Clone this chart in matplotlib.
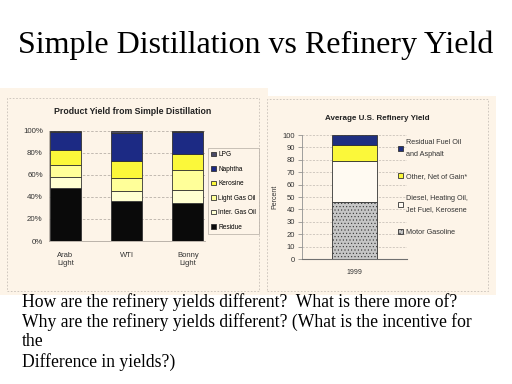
#!/usr/bin/env python3
import numpy as np
import matplotlib.pyplot as plt
from matplotlib.patches import Rectangle
from matplotlib.ticker import FuncFormatter

# left chart: product yield (%) by crude, stacked bottom -> top
crudes = ["Arab\nLight", "WTI", "Bonny\nLight"]
residue = [48, 36, 34]
inter_gas_oil = [10, 9, 12]
light_gas_oil = [11, 12, 18]
kerosine = [13, 15, 15]
naphtha = [17, 26, 20]
lpg = [1, 2, 1]

# right chart: average US refinery yield 1999 (%)
years = ["1999"]
motor_gasoline = [46]
diesel_jet = [33]
other_net = [13]
residual_fuel = [8]

W, H = 512, 384
BG = "#fdf4e8"

fig = plt.figure(figsize=(W / 100, H / 100), dpi=100)
fig.patch.set_facecolor("white")

def px_axes(x0, y0, x1, y1):
    # pixel box (top-left origin) -> figure axes
    return fig.add_axes([x0 / W, 1 - y1 / H, (x1 - x0) / W, (y1 - y0) / H])

# beige panels
for (x0, y0, x1, y1) in [(0, 88, 268, 295), (266, 96, 496, 295)]:
    fig.patches.append(Rectangle((x0 / W, 1 - y1 / H), (x1 - x0) / W, (y1 - y0) / H,
                                 transform=fig.transFigure, facecolor=BG, edgecolor="none", zorder=-2))
for (x0, y0, x1, y1) in [(7, 98, 259, 291), (267, 99, 488, 291)]:
    fig.patches.append(Rectangle((x0 / W, 1 - y1 / H), (x1 - x0) / W, (y1 - y0) / H,
                                 transform=fig.transFigure, facecolor="none", edgecolor="#c8c0b8",
                                 lw=0.6, ls=(0, (2, 2)), zorder=-1))

serif = "Liberation Serif"
sans = "Liberation Sans"

fig.text(0.5, 1 - 45 / H, "Simple Distillation vs Refinery Yield", ha="center", va="center",
         family=serif, fontsize=23)

questions = ["How are the refinery yields different?  What is there more of?",
             "Why are the refinery yields different? (What is the incentive for",
             "the",
             "Difference in yields?)"]
for i, line in enumerate(questions):
    fig.text(22 / W, 1 - (302 + i * 20) / H, line, ha="left", va="center", family=serif, fontsize=12.7)

# ---- left chart
ax1 = px_axes(49, 130.5, 205, 241)
ax1.set_facecolor(BG)
x = np.arange(len(crudes))
series = [("Residue", residue, "#0a0a0a"),
          ("Inter. Gas Oil", inter_gas_oil, "#ffffd2"),
          ("Light Gas Oil", light_gas_oil, "#ffff99"),
          ("Kerosine", kerosine, "#fbf83a"),
          ("Naphtha", naphtha, "#1c2a84"),
          ("LPG", lpg, "#4a4a66")]
bottom = np.zeros(len(crudes))
handles = []
for name, vals, col in series:
    b = ax1.bar(x, vals, 0.51, bottom=bottom, color=col, edgecolor="#333333", lw=0.6,
                label=name, zorder=3)
    handles.append(b)
    bottom += np.array(vals)
ax1.set_xlim(-0.27, 2.28)
ax1.set_ylim(0, 100)
ax1.set_yticks(range(0, 101, 20))
ax1.yaxis.set_major_formatter(FuncFormatter(lambda v, p: "%d%%" % v))
ax1.set_xticks(x)
ax1.set_xticklabels(crudes, family=sans, fontsize=5.5, color="#333333")
ax1.tick_params(axis="y", labelsize=5.7, labelcolor="#333333", length=0, pad=4.5)
ax1.tick_params(axis="x", length=0, pad=8)
ax1.grid(axis="y", color="#b8b0a8", lw=0.6, ls=(0, (3, 2)), zorder=0)
for s in ["top", "right"]:
    ax1.spines[s].set_visible(False)
ax1.spines["left"].set_color("#b0a8a0")
ax1.spines["bottom"].set_color("#b0a8a0")
ax1.spines["left"].set_linewidth(0.6)
ax1.spines["bottom"].set_linewidth(0.6)
for lab in ax1.get_yticklabels():
    lab.set_family(sans)
fig.text(133 / W, 1 - 112 / H, "Product Yield from Simple Distillation", ha="center", va="center",
         family=sans, fontsize=6.3, fontweight="bold", color="#222222")
leg1 = ax1.legend(handles[::-1], [s[0] for s in series][::-1], loc="upper left",
                  bbox_to_anchor=(208 / W, 1 - 148 / H), bbox_transform=fig.transFigure,
                  prop={"family": sans, "size": 4.7}, frameon=True, fancybox=False,
                  handlelength=0.75, handleheight=0.75, handletextpad=0.3, labelspacing=1.15,
                  borderpad=0.5, borderaxespad=0)
leg1.get_frame().set_edgecolor("#b0a8a0")
leg1.get_frame().set_facecolor(BG)
leg1.get_frame().set_linewidth(0.6)

# ---- right chart
ax2 = px_axes(302, 135, 407, 259)
ax2.set_facecolor(BG)
xr = np.arange(len(years))
series2 = [("Motor Gasoline", motor_gasoline, "#c6c6c6", "....."),
           ("Diesel, Heating Oil,\nJet Fuel, Kerosene", diesel_jet, "#fffaf2", None),
           ("Other, Net of Gain*", other_net, "#fbf83a", None),
           ("Residual Fuel Oil\nand Asphalt", residual_fuel, "#1f2f80", None)]
bottom = np.zeros(len(years))
handles2 = []
plt.rcParams["hatch.color"] = "#a0a0a0"
plt.rcParams["hatch.linewidth"] = 0.4
for name, vals, col, hatch in series2:
    b = ax2.bar(xr, vals, 0.84, bottom=bottom, color=col, edgecolor="#333333", lw=0.6,
                hatch=hatch, label=name, zorder=3)
    handles2.append(b)
    bottom += np.array(vals)
ax2.set_xlim(-1, 1)
ax2.set_ylim(0, 100)
ax2.set_yticks(range(0, 101, 10))
ax2.set_xticks(xr)
ax2.set_xticklabels(years, family=sans, fontsize=5, color="#333333")
ax2.tick_params(axis="y", labelsize=5.5, labelcolor="#333333", length=3, width=0.5,
                color="#808080", pad=2)
ax2.tick_params(axis="x", length=0, pad=7)
for lab in ax2.get_yticklabels():
    lab.set_family(sans)
ax2.grid(axis="y", color="#c0b8b0", lw=0.5, ls=(0, (3, 2)), zorder=0)
for s in ["top", "right"]:
    ax2.spines[s].set_visible(False)
ax2.spines["left"].set_color("#909090")
ax2.spines["bottom"].set_color("#707070")
ax2.spines["left"].set_linewidth(0.6)
ax2.spines["bottom"].set_linewidth(0.8)
ax2.set_ylabel("Percent", family=sans, fontsize=5, color="#333333", labelpad=3)
fig.text(377 / W, 1 - 118 / H, "Average U.S. Refinery Yield", ha="center", va="center",
         family=sans, fontsize=5.8, fontweight="bold", color="#222222")
leg2 = ax2.legend(handles2[::-1], [s[0] for s in series2][::-1], loc="upper left",
                  bbox_to_anchor=(398 / W, 1 - 139 / H), bbox_transform=fig.transFigure,
                  prop={"family": sans, "size": 5.2}, frameon=False,
                  handlelength=0.7, handleheight=0.7, handletextpad=0.4, labelspacing=2.1,
                  borderpad=0, borderaxespad=0)
for t in leg2.get_texts():
    t.set_color("#333333")
    t.set_linespacing(1.9)

fig.savefig("out.png", dpi=100, facecolor="white")
